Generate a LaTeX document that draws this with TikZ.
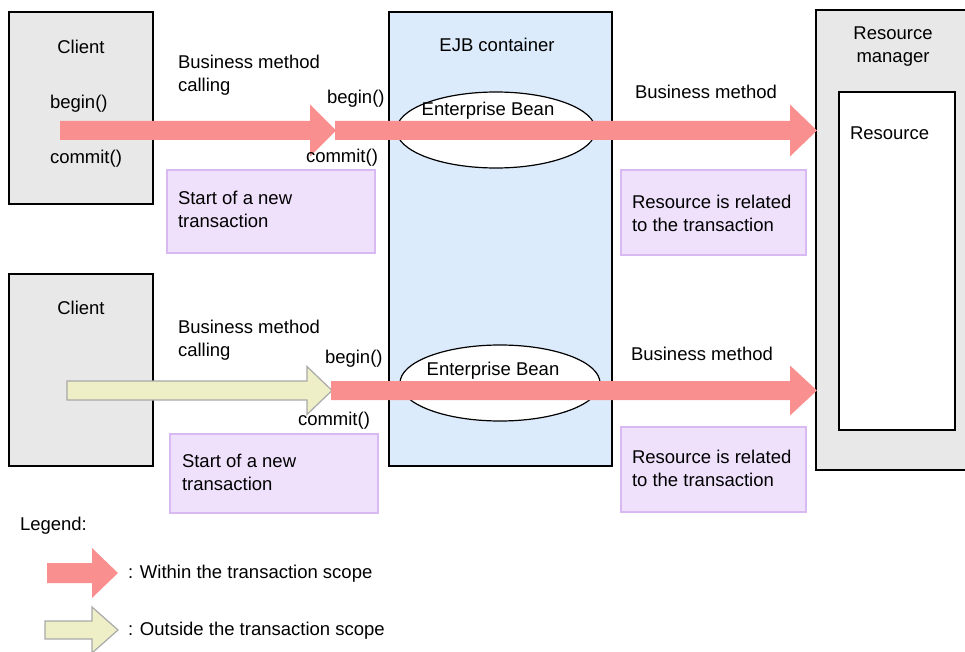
\documentclass[tikz,border=0pt]{standalone}
\usepackage{fontspec}
\setmainfont{Liberation Sans}
\usetikzlibrary{shapes.geometric}
\definecolor{boxgray}{HTML}{E8E8E8}
\definecolor{ejbblue}{HTML}{DCEBFB}
\definecolor{notefill}{HTML}{EFE1FC}
\definecolor{noteline}{HTML}{D9B9F2}
\definecolor{redarr}{HTML}{F98F8F}
\definecolor{yelarr}{HTML}{EEEFC7}
\definecolor{yelline}{HTML}{A9A9A9}
\newcommand\blockarr[7]{%
  \filldraw[#1] (#2,#5-#6) -- (#3,#5-#6) -- (#3,#5-#7) -- (#4,#5) -- (#3,#5+#7) -- (#3,#5+#6) -- (#2,#5+#6) -- cycle;}
\begin{document}
\begin{tikzpicture}[x=1pt,y=-1pt,
  every node/.style={font=\fontsize{18.5}{23}\selectfont, inner sep=0pt, outer sep=0pt},
  graybox/.style={draw=black, fill=boxgray, line width=1.3pt, anchor=north west},
  ejbbox/.style={draw=black, fill=ejbblue, line width=1.3pt, anchor=north west},
  whitebox/.style={draw=black, fill=white, line width=1.3pt, anchor=north west},
  notebox/.style={draw=noteline, fill=notefill, line width=1.2pt, anchor=north west},
  beanshape/.style={ellipse, draw=black, fill=white, line width=1.2pt},
  txt/.style={anchor=base west, align=left},
  ctxt/.style={anchor=base, align=center},
  inscope/.style={fill=redarr, draw=none},
  outscope/.style={fill=yelarr, draw=yelline, line width=1.2pt, line join=miter},
]
\useasboundingbox (0,0) rectangle (965,652);

% boxes
\node[graybox, minimum width=144pt, minimum height=192pt] (client1) at (9,12) {};
\node[graybox, minimum width=144pt, minimum height=192pt] (client2) at (9,274) {};
\node[ejbbox, minimum width=223pt, minimum height=454pt] (ejb) at (389,12) {};
\node[graybox, minimum width=170pt, minimum height=460pt] (rm) at (816,10) {};
\node[whitebox, minimum width=116pt, minimum height=338pt] (res) at (839,92) {};

% enterprise beans
\node[beanshape, minimum width=199pt, minimum height=76pt] (bean1) at (496,130) {};
\node[beanshape, minimum width=200pt, minimum height=76pt] (bean2) at (500,383) {};

% notes
\node[notebox, minimum width=208pt, minimum height=83pt] (note1) at (167,170) {};
\node[notebox, minimum width=185pt, minimum height=85pt] (note2) at (621,170) {};
\node[notebox, minimum width=208pt, minimum height=79pt] (note3) at (170,434) {};
\node[notebox, minimum width=185pt, minimum height=85pt] (note4) at (621,427) {};

% arrows
\blockarr{inscope}{60}{310}{336}{130.5}{9.5}{26}
\blockarr{inscope}{335}{790}{817}{130.5}{9.5}{26}
\blockarr{outscope}{67}{307}{332}{390.5}{9.5}{24}
\blockarr{inscope}{331}{790}{817}{390.5}{9.5}{25}
\blockarr{inscope}{47}{92}{118}{573}{10}{25}
\blockarr{outscope}{45}{92}{118}{630}{9}{23}

% texts top row (multi-line nodes: base = last line)
\node[ctxt] (c1t) at (81,54) {Client};
\node[txt] (b1) at (50,109) {begin()};
\node[txt] (cm1) at (50,164) {commit()};
\node[txt] (bm1) at (178,92) {Business method\\calling};
\node[txt] (b1r) at (327,104) {begin()};
\node[txt] (cm1r) at (306,163) {commit()};
\node[txt] (n1t) at (178,228) {Start of a new\\transaction};
\node[ctxt] (ejbt) at (497,52) {EJB container};
\node[ctxt] (bean1t) at (488,116) {Enterprise Bean};
\node[txt] (bm2) at (635,99) {Business method};
\node[txt] (n2t) at (632,231) {Resource is related\\to the transaction};
\node[ctxt] (rmt) at (893,63) {Resource\\manager};
\node[txt] (rest) at (850,140) {Resource};

% texts bottom row
\node[ctxt] (c2t) at (81,314) {Client};
\node[txt] (bm3) at (178,356) {Business method\\calling};
\node[txt] (b2r) at (325,363) {begin()};
\node[txt] (cm2r) at (298,425) {commit()};
\node[txt] (n3t) at (182,490) {Start of a new\\transaction};
\node[ctxt] (bean2t) at (493,375) {Enterprise Bean};
\node[txt] (bm4) at (631,360) {Business method};
\node[txt] (n4t) at (632,486) {Resource is related\\to the transaction};

% legend
\node[txt] (leg) at (20,530) {Legend:};
\node[txt] (leg1) at (128,578) {: Within the transaction scope};
\node[txt] (leg2) at (128,635) {: Outside the transaction scope};
\end{tikzpicture}
\end{document}
